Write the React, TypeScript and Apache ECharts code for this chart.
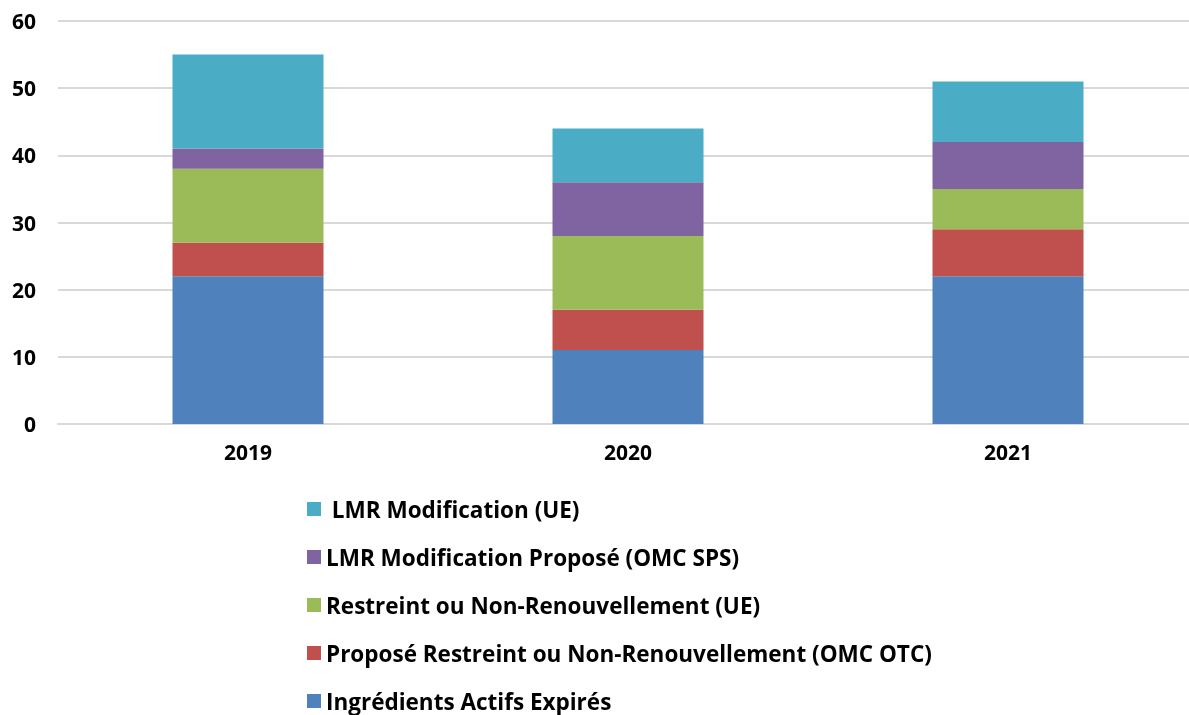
import React, { useEffect, useRef } from "react";
import * as echarts from "echarts";

const years = ["2019", "2020", "2021"];
const seriesNames = [
  "Ingrédients Actifs Expirés",
  "Proposé Restreint ou Non-Renouvellement (OMC OTC)",
  "Restreint ou Non-Renouvellement (UE)",
  "LMR Modification Proposé (OMC SPS)",
  " LMR Modification (UE)",
];
const expired = [22, 11, 22];
const proposedRestricted = [5, 6, 7];
const restrictedEU = [11, 11, 6];
const lmrProposed = [3, 8, 7];
const lmrEU = [14, 8, 9];
const colors = ["#4F81BD", "#C0504D", "#9BBB59", "#8064A2", "#4BACC6"];
const yTicks = { min: 0, max: 60, interval: 10 };

export default function App() {
  const ref = useRef<HTMLDivElement>(null);
  useEffect(() => {
    if (!ref.current) return;
    const chart = echarts.init(ref.current, undefined, { renderer: "svg" });
    const values = [expired, proposedRestricted, restrictedEU, lmrProposed, lmrEU];
    const font = "'Open Sans', sans-serif";
    chart.setOption({
      animation: false,
      grid: { left: 58, top: 21, width: 1140, height: 403, containLabel: false },
      xAxis: {
        type: "category",
        data: years,
        axisLine: { lineStyle: { color: "#d9d9d9", width: 2 } },
        axisTick: { show: false },
        axisLabel: { color: "#000", fontWeight: "bold", fontSize: 21, fontFamily: font, margin: 17 },
      },
      yAxis: {
        type: "value",
        min: yTicks.min,
        max: yTicks.max,
        interval: yTicks.interval,
        axisLine: { show: false },
        axisTick: { show: false },
        splitLine: { lineStyle: { color: "#d9d9d9", width: 2 } },
        axisLabel: { color: "#000", fontWeight: "bold", fontSize: 21, fontFamily: font, margin: 22 },
      },
      legend: {
        orient: "vertical",
        left: 302,
        top: 492,
        height: 260,
        itemWidth: 14,
        itemHeight: 14,
        itemGap: 24,
        icon: "rect",
        data: [...seriesNames].reverse(),
        textStyle: {
          color: "#000",
          fontWeight: "bold",
          fontSize: 22.5,
          lineHeight: 24,
          fontFamily: font,
          padding: [0, 0, 0, 0],
        },
      },
      series: seriesNames.map((name, i) => ({
        name,
        type: "bar",
        stack: "total",
        data: values[i],
        barWidth: 151,
        itemStyle: { color: colors[i] },
      })),
    });
    return () => chart.dispose();
  }, []);
  return (
    <div
      ref={ref}
      style={{ position: "fixed", left: 0, top: 0, width: 1210, height: 715 }}
    />
  );
}
